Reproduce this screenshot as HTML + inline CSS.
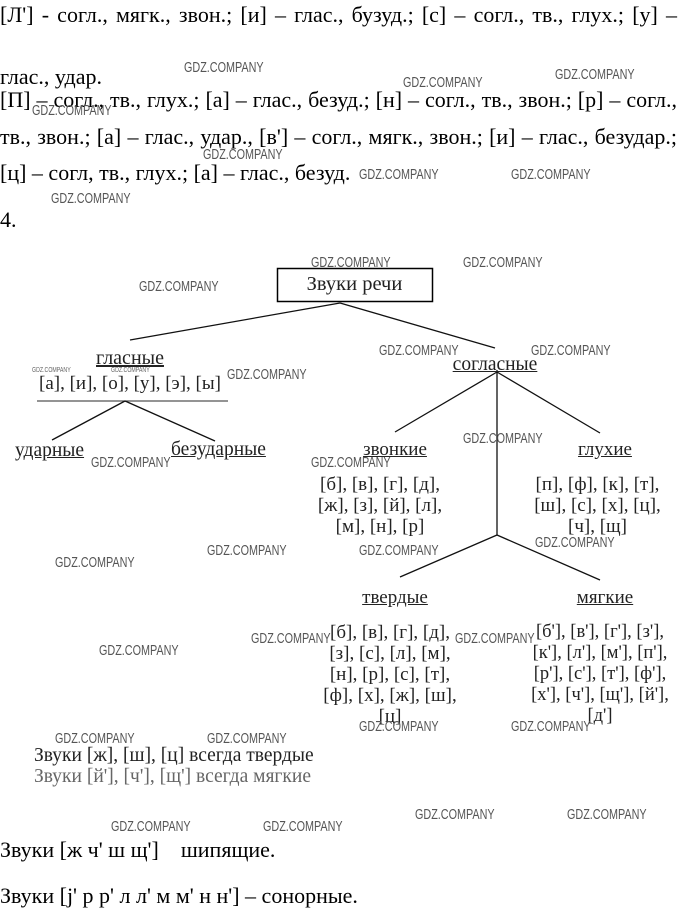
<!DOCTYPE html>
<html><head><meta charset="utf-8"><style>
body{margin:0;width:680px;height:908px;background:#fff;position:relative;overflow:hidden;font-family:"Liberation Serif",serif;color:#000}
.t{position:absolute;white-space:nowrap;font-size:22px;line-height:24px}
.j{width:677px;text-align:justify;text-align-last:justify;white-space:normal}
.d{position:absolute;white-space:nowrap;font-size:19px;line-height:20px;color:#222;text-align:center}
.u{text-decoration:underline}
.w{position:absolute;white-space:nowrap;font-family:"Liberation Sans",sans-serif;font-size:15px;color:#555;transform:scaleX(0.72);transform-origin:left top}
.ws{position:absolute;white-space:nowrap;font-family:"Liberation Sans",sans-serif;font-size:7px;color:#666;transform:scaleX(0.75);transform-origin:left top}
</style></head><body>
<div class="t j" style="left:0;top:3px">[Л'] - согл., мягк., звон.; [и] – глас., бузуд.; [с] – согл., тв., глух.; [у] –</div>
<div class="t" style="left:0;top:65px">глас., удар.</div>
<div class="t j" style="left:0;top:88px">[П] – согл., тв., глух.; [а] – глас., безуд.; [н] – согл., тв., звон.; [р] – согл.,</div>
<div class="t j" style="left:0;top:125px">тв., звон.; [а] – глас., удар., [в'] – согл., мягк., звон.; [и] – глас., безудар.;</div>
<div class="t" style="left:0;top:161px">[ц] – согл, тв., глух.; [а] – глас., безуд.</div>
<div class="t" style="left:0;top:208px">4.</div>

<svg style="position:absolute;left:0;top:0" width="680" height="908">
<rect x="277.5" y="268.5" width="155" height="33" fill="none" stroke="#000" stroke-width="1.5"/>
<g stroke="#111" stroke-width="1.3" fill="none">
<line x1="340" y1="303" x2="130" y2="340"/>
<line x1="340" y1="303" x2="495" y2="348"/>
<line x1="37" y1="401" x2="228" y2="401" stroke="#555"/>
<line x1="125" y1="401" x2="52" y2="440"/>
<line x1="125" y1="401" x2="215" y2="441"/>
<line x1="497" y1="370" x2="497" y2="535"/>
<line x1="497" y1="372" x2="395" y2="432"/>
<line x1="497" y1="372" x2="600" y2="433"/>
<line x1="497" y1="535" x2="400" y2="577"/>
<line x1="497" y1="535" x2="600" y2="580"/>
</g>
</svg>

<div class="d" style="left:277px;top:274px;width:155px;font-size:20.5px">Звуки речи</div>
<div class="d u" style="left:80px;top:348px;width:100px;font-size:20px">гласные</div>
<div class="d" style="left:20px;top:374px;width:220px">[а], [и], [о], [у], [э], [ы]</div>
<div class="d u" style="left:15px;top:441px;font-size:19.5px">ударные</div>
<div class="d u" style="left:171px;top:440px;font-size:19.5px">безударные</div>
<div class="d u" style="left:440px;top:355px;width:110px;font-size:19.5px">согласные</div>
<div class="d u" style="left:340px;top:440px;width:110px;font-size:19px">звонкие</div>
<div class="d u" style="left:550px;top:440px;width:110px;font-size:19px">глухие</div>
<div class="d" style="left:300px;top:474px;width:160px;line-height:21px">[б], [в], [г], [д],<br>[ж], [з], [й], [л],<br>[м], [н], [р]</div>
<div class="d" style="left:515px;top:474px;width:165px;line-height:21px">[п], [ф], [к], [т],<br>[ш], [с], [х], [ц],<br>[ч], [щ]</div>
<div class="d u" style="left:340px;top:588px;width:110px;font-size:19px">твердые</div>
<div class="d u" style="left:550px;top:588px;width:110px;font-size:19px">мягкие</div>
<div class="d" style="left:305px;top:622px;width:170px;line-height:21px">[б], [в], [г], [д],<br>[з], [с], [л], [м],<br>[н], [р], [с], [т],<br>[ф], [х], [ж], [ш],<br>[ц]</div>
<div class="d" style="left:515px;top:622px;width:170px;line-height:21px;font-size:18.5px">[б'], [в'], [г'], [з'],<br>[к'], [л'], [м'], [п'],<br>[р'], [с'], [т'], [ф'],<br>[х'], [ч'], [щ'], [й'],<br>[д']</div>
<div class="d" style="left:34px;top:746px;font-size:19.5px">Звуки [ж], [ш], [ц] всегда твердые</div>
<div class="d" style="left:34px;top:767px;font-size:19.5px;color:#666">Звуки [й'], [ч'], [щ'] всегда мягкие</div>
<div class="t" style="left:0;top:838px">Звуки [ж ч' ш щ']&nbsp;&nbsp;&nbsp; шипящие.</div>
<div class="t" style="left:0;top:884px">Звуки [j' р р' л л' м м' н н'] – сонорные.</div>

<div class="w" style="left:184px;top:59px">GDZ.COMPANY</div>
<div class="w" style="left:403px;top:74px">GDZ.COMPANY</div>
<div class="w" style="left:555px;top:66px">GDZ.COMPANY</div>
<div class="w" style="left:32px;top:102px">GDZ.COMPANY</div>
<div class="w" style="left:203px;top:146px">GDZ.COMPANY</div>
<div class="w" style="left:359px;top:166px">GDZ.COMPANY</div>
<div class="w" style="left:511px;top:166px">GDZ.COMPANY</div>
<div class="w" style="left:51px;top:190px">GDZ.COMPANY</div>
<div class="w" style="left:311px;top:254px">GDZ.COMPANY</div>
<div class="w" style="left:463px;top:254px">GDZ.COMPANY</div>
<div class="w" style="left:139px;top:278px">GDZ.COMPANY</div>
<div class="w" style="left:379px;top:342px">GDZ.COMPANY</div>
<div class="w" style="left:531px;top:342px">GDZ.COMPANY</div>
<div class="w" style="left:227px;top:366px">GDZ.COMPANY</div>
<div class="ws" style="left:32px;top:367px">GDZ.COMPANY</div>
<div class="ws" style="left:111px;top:367px">GDZ.COMPANY</div>
<div class="w" style="left:463px;top:430px">GDZ.COMPANY</div>
<div class="w" style="left:91px;top:454px">GDZ.COMPANY</div>
<div class="w" style="left:311px;top:454px">GDZ.COMPANY</div>
<div class="w" style="left:535px;top:534px">GDZ.COMPANY</div>
<div class="w" style="left:207px;top:542px">GDZ.COMPANY</div>
<div class="w" style="left:359px;top:542px">GDZ.COMPANY</div>
<div class="w" style="left:55px;top:554px">GDZ.COMPANY</div>
<div class="w" style="left:251px;top:630px">GDZ.COMPANY</div>
<div class="w" style="left:455px;top:630px">GDZ.COMPANY</div>
<div class="w" style="left:99px;top:642px">GDZ.COMPANY</div>
<div class="w" style="left:359px;top:718px">GDZ.COMPANY</div>
<div class="w" style="left:511px;top:718px">GDZ.COMPANY</div>
<div class="w" style="left:55px;top:730px">GDZ.COMPANY</div>
<div class="w" style="left:207px;top:730px">GDZ.COMPANY</div>
<div class="w" style="left:415px;top:806px">GDZ.COMPANY</div>
<div class="w" style="left:567px;top:806px">GDZ.COMPANY</div>
<div class="w" style="left:111px;top:818px">GDZ.COMPANY</div>
<div class="w" style="left:263px;top:818px">GDZ.COMPANY</div>
</body></html>
